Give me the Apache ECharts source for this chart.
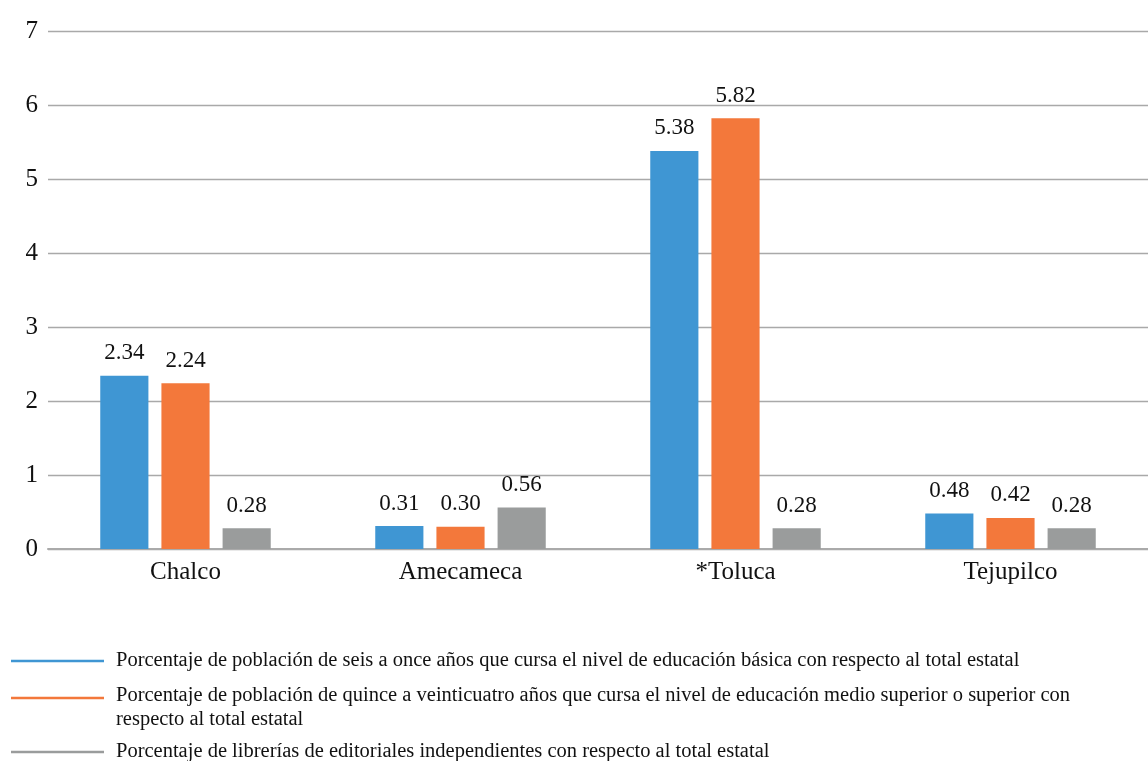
<!DOCTYPE html>
<html>
<head>
<meta charset="utf-8">
<script src="https://cdn.jsdelivr.net/npm/echarts@6/dist/echarts.min.js"></script>
<style>
html,body{margin:0;padding:0;background:#fff;}
#chart{width:1148px;height:761px;}
</style>
</head>
<body>
<div id="chart"></div>
<script>
const categories = ['Chalco', 'Amecameca', '*Toluca', 'Tejupilco'];
const basica = [2.34, 0.31, 5.38, 0.48];
const mediaSuperior = [2.24, 0.30, 5.82, 0.42];
const librerias = [0.28, 0.56, 0.28, 0.28];
const seriesNames = [
  'Porcentaje de población de seis a once años que cursa el nivel de educación básica con respecto al total estatal',
  'Porcentaje de población de quince a veinticuatro años que cursa el nivel de educación medio superior o superior con\nrespecto al total estatal',
  'Porcentaje de librerías de editoriales independientes con respecto al total estatal'
];
const yTicks = [0, 1, 2, 3, 4, 5, 6, 7];

const colors = ['#3F96D3', '#F3783B', '#9A9C9C'];
const FONT = '"Liberation Serif", "DejaVu Serif", serif';

const chart = echarts.init(document.getElementById('chart'), null, {renderer: 'canvas'});

function barSeries(name, data, color) {
  return {
    name: name,
    type: 'bar',
    data: data,
    barGap: '27%',
    barCategoryGap: '38%',
    itemStyle: {color: color},
    label: {
      show: true,
      position: 'top',
      distance: 11,
      fontFamily: FONT,
      fontSize: 23,
      color: '#111',
      formatter: p => p.value.toFixed(2)
    }
  };
}

const legendGraphics = [];
const legendY = [661, 698, 752];
const textY = [661, 696, 752];
seriesNames.forEach((n, i) => {
  legendGraphics.push({
    type: 'line',
    shape: {x1: 11, y1: legendY[i], x2: 104, y2: legendY[i]},
    style: {stroke: colors[i], lineWidth: 2.5}
  });
  legendGraphics.push({
    type: 'text',
    x: 116,
    y: textY[i] - 12,
    style: {
      text: n,
      fontFamily: FONT,
      fontSize: 20.5,
      lineHeight: 24,
      fill: '#111',
      verticalAlign: 'top'
    }
  });
});

chart.setOption({
  backgroundColor: '#fff',
  animation: false,
  grid: {left: 48, right: 0, top: 31, bottom: 212, containLabel: false},
  xAxis: {
    type: 'category',
    data: categories,
    axisTick: {show: false},
    axisLine: {show: true, lineStyle: {color: '#aaaaaa', width: 2}},
    axisLabel: {fontFamily: FONT, fontSize: 25, color: '#111', margin: 11}
  },
  yAxis: {
    type: 'value',
    min: yTicks[0],
    max: yTicks[yTicks.length - 1],
    interval: 1,
    axisLine: {show: false},
    axisTick: {show: false},
    axisLabel: {fontFamily: FONT, fontSize: 25, color: '#111', margin: 10},
    splitLine: {lineStyle: {color: '#a9a9a9', width: 1.3}}
  },
  series: [
    barSeries(seriesNames[0], basica, colors[0]),
    barSeries(seriesNames[1], mediaSuperior, colors[1]),
    barSeries(seriesNames[2], librerias, colors[2])
  ],
  graphic: legendGraphics
});
</script>
</body>
</html>
